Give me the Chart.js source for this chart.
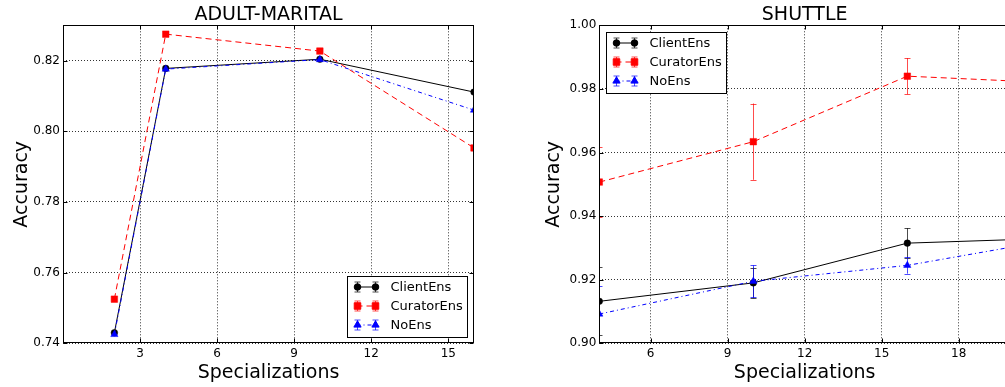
<!DOCTYPE html>
<html><head><meta charset="utf-8">
<script src="https://cdn.jsdelivr.net/npm/chart.js@4.4.1/dist/chart.umd.min.js"></script>
<style>
html,body{margin:0;padding:0;background:#fff;overflow:hidden;width:1005px;height:387px;}
#wrap{position:relative;width:1030px;height:387px;}
#c1{position:absolute;left:0;top:0;}
#c2{position:absolute;left:500px;top:0;}
</style></head><body>
<div id="wrap"><canvas id="c1" width="500" height="387"></canvas><canvas id="c2" width="530" height="387"></canvas></div>
<script>
// ---------- data ----------
const seriesNames = ['ClientEns', 'CuratorEns', 'NoEns'];

// ADULT-MARITAL
const adultX = [2, 4, 10, 16];
const adultClient  = [0.7430, 0.8178, 0.8204, 0.8111];
const adultCurator = [0.7525, 0.8275, 0.8227, 0.7953];
const adultNoEns   = [0.7425, 0.8176, 0.8203, 0.8060];
const adultErrClient  = [0, 0, 0, 0];
const adultErrCurator = [0, 0, 0, 0];
const adultErrNoEns   = [0, 0, 0, 0];
const adultXTicks = [3, 6, 9, 12, 15];
const adultYTicks = [0.74, 0.76, 0.78, 0.80, 0.82];

// SHUTTLE
const shuttleX = [4, 10, 16, 22];
const shuttleClient  = [0.9132, 0.9190, 0.9315, 0.9331];
const shuttleCurator = [0.9507, 0.9634, 0.9840, 0.9818];
const shuttleNoEns   = [0.9092, 0.9195, 0.9245, 0.9330];
const shuttleErrClient  = [0.0107, 0.0048, 0.0047, 0.0030];
const shuttleErrCurator = [0.0110, 0.0120, 0.0057, 0.0030];
const shuttleErrNoEns   = [0.0088, 0.0050, 0.0026, 0.0030];
const shuttleXTicks = [6, 9, 12, 15, 18];
const shuttleYTicks = [0.90, 0.92, 0.94, 0.96, 0.98, 1.00];

// ---------- styles ----------
const FONT = 'DejaVu Sans';
const styles = [
  {color: '#000000', dash: [], pointStyle: 'circle', radius: 3.3, order: 3},
  {color: '#ff0000', dash: [6, 4], pointStyle: 'rect', radius: 4.6, order: 2},
  {color: '#0000ff', dash: [4, 3, 1, 3], pointStyle: 'triangle', radius: 4.2, order: 1}
];

function makeDatasets(xs, ysList, errList) {
  return ysList.map((ys, k) => {
    const s = styles[k];
    return {
      label: seriesNames[k],
      data: xs.map((x, i) => ({x: x, y: ys[i]})),
      err: errList[k],
      borderColor: s.color,
      backgroundColor: s.color,
      borderWidth: 1,
      borderDash: s.dash,
      pointStyle: s.pointStyle,
      pointRadius: s.radius,
      pointBorderWidth: 0.5,
      pointBackgroundColor: s.color,
      pointBorderColor: s.color,
      tension: 0,
      clip: 0,
      order: s.order
    };
  });
}

const errorBars = {
  id: 'errorBars',
  beforeDatasetsDraw(chart) {
    const {ctx, chartArea: a, scales: {x, y}} = chart;
    ctx.save();
    ctx.beginPath(); ctx.rect(a.left, a.top, a.right - a.left, a.bottom - a.top); ctx.clip();
    chart.data.datasets.forEach(ds => {
      if (!ds.err) return;
      ctx.strokeStyle = ds.borderColor; ctx.globalAlpha = 0.7; ctx.lineWidth = 1; ctx.setLineDash([]);
      ds.data.forEach((p, i) => {
        const e = ds.err[i]; if (!e) return;
        const px = Math.round(x.getPixelForValue(p.x)) + 0.5;
        const y1 = y.getPixelForValue(p.y + e), y2 = y.getPixelForValue(p.y - e);
        ctx.beginPath();
        ctx.moveTo(px, y1); ctx.lineTo(px, y2);
        ctx.moveTo(px - 3, Math.round(y1) + 0.5); ctx.lineTo(px + 3, Math.round(y1) + 0.5);
        ctx.moveTo(px - 3, Math.round(y2) + 0.5); ctx.lineTo(px + 3, Math.round(y2) + 0.5);
        ctx.stroke();
      });
    });
    ctx.restore();
  }
};

const frame = {
  id: 'frame',
  afterDatasetsDraw(chart) {
    const {ctx, chartArea: a, scales: {x, y}} = chart;
    ctx.save();
    ctx.strokeStyle = '#000'; ctx.lineWidth = 1; ctx.setLineDash([]);
    const L = Math.round(a.left) + 0.5, R = Math.round(a.right) - 0.5, T = Math.round(a.top) + 0.5, B = Math.round(a.bottom) - 0.5;
    ctx.strokeRect(L, T, R - L, B - T);
    ctx.beginPath();
    x.ticks.forEach(t => {
      const px = Math.round(x.getPixelForValue(t.value)) + 0.5;
      ctx.moveTo(px, B); ctx.lineTo(px, B - 4);
      ctx.moveTo(px, T); ctx.lineTo(px, T + 4);
    });
    y.ticks.forEach(t => {
      const py = Math.round(y.getPixelForValue(t.value)) + 0.5;
      ctx.moveTo(L, py); ctx.lineTo(L + 4, py);
      ctx.moveTo(R, py); ctx.lineTo(R - 4, py);
    });
    ctx.stroke();
    ctx.restore();
  }
};

const legendBox = {
  id: 'legendBox',
  afterDraw(chart, args, opts) {
    const {ctx, chartArea: a} = chart;
    ctx.save();
    ctx.font = '13px "' + FONT + '"';
    const textW = Math.max(...chart.data.datasets.map(d => ctx.measureText(d.label).width));
    const w = 43 + textW + 5, h = 61;
    let left, top;
    if (opts.corner === 'lower right') { left = a.right - 6.5 - w; top = a.bottom - 6.5 - h; }
    else { left = a.left + 6.5; top = a.top + 6.5; }
    left = Math.round(left) + 0.5; top = Math.round(top) + 0.5;
    ctx.fillStyle = '#fff'; ctx.fillRect(left, top, w, h);
    ctx.strokeStyle = '#000'; ctx.lineWidth = 1; ctx.setLineDash([]);
    ctx.strokeRect(left, top, Math.round(w), h);
    chart.data.datasets.forEach((ds, i) => {
      const s = styles[i];
      const cy = top + 10.5 + i * 19;
      const x1 = left + 9, x2 = left + 27;
      ctx.strokeStyle = s.color; ctx.setLineDash(s.dash); ctx.lineWidth = 1;
      ctx.beginPath(); ctx.moveTo(x1, cy); ctx.lineTo(x2, cy); ctx.stroke();
      ctx.setLineDash([]);
      ctx.globalAlpha = 0.7;
      [x1, x2].forEach(px => {
        const xx = Math.round(px) + 0.5;
        ctx.beginPath();
        ctx.moveTo(xx, cy - 5); ctx.lineTo(xx, cy + 5);
        ctx.moveTo(xx - 3, cy - 5); ctx.lineTo(xx + 3, cy - 5);
        ctx.moveTo(xx - 3, cy + 5); ctx.lineTo(xx + 3, cy + 5);
        ctx.stroke();
      });
      ctx.globalAlpha = 1;
      ctx.fillStyle = s.color; ctx.strokeStyle = s.color;
      [x1, x2].forEach(px => {
        Chart.helpers.drawPoint(ctx, {pointStyle: s.pointStyle, radius: s.radius, borderWidth: 0.5}, Math.round(px) + 0.5, cy);
      });
      ctx.fillStyle = '#000'; ctx.textBaseline = 'middle'; ctx.textAlign = 'left';
      ctx.fillText(ds.label, left + 43, cy + 0.5);
    });
    ctx.restore();
  }
};

function makeChart(id, cfg) {
  return new Chart(document.getElementById(id), {
    type: 'line',
    data: {datasets: makeDatasets(cfg.xs, cfg.ys, cfg.errs)},
    options: {
      responsive: false, animation: false, devicePixelRatio: 1, events: [],
      layout: {padding: {top: 0, left: 0, right: cfg.padRight, bottom: 0}},
      plugins: {
        legend: {display: false}, tooltip: {enabled: false},
        title: {display: true, text: cfg.title, color: '#000', fullSize: false,
                font: {family: FONT, size: 19, weight: 'normal', lineHeight: 1},
                padding: {top: 5.6, bottom: 0.7}},
        legendBox: {corner: cfg.legendCorner}
      },
      scales: {
        x: {
          type: 'linear', min: cfg.xMin, max: cfg.xMax,
          afterBuildTicks: s => { s.ticks = cfg.xTicks.map(v => ({value: v})); },
          afterFit: s => { s.height = 43.7; },
          ticks: {autoSkip: false, maxRotation: 0, padding: 3, color: '#000',
                  font: {family: FONT, size: 12}, callback: v => String(v)},
          grid: {color: 'rgba(0,0,0,0.8)', lineWidth: 1, drawTicks: false, borderDash: [1, 2]},
          border: {display: false, dash: [1, 2]},
          title: {display: true, text: 'Specializations', color: '#000',
                  font: {family: FONT, size: 19, lineHeight: 1}, padding: {top: 0, bottom: 4.8}}
        },
        y: {
          type: 'linear', min: cfg.yMin, max: cfg.yMax,
          afterBuildTicks: s => { s.ticks = cfg.yTicks.map(v => ({value: v})); },
          afterFit: s => { s.width = cfg.yAxisWidth; },
          ticks: {padding: 3, color: '#000', font: {family: FONT, size: 12},
                  callback: v => Number(v).toFixed(2)},
          grid: {color: 'rgba(0,0,0,0.8)', lineWidth: 1, drawTicks: false, borderDash: [1, 2]},
          border: {display: false, dash: [1, 2]},
          title: {display: true, text: 'Accuracy', color: '#000',
                  font: {family: FONT, size: 19, lineHeight: 1}, padding: {top: cfg.yTitlePad, bottom: 0}}
        }
      }
    },
    plugins: [errorBars, frame, legendBox]
  });
}

makeChart('c1', {
  title: 'ADULT-MARITAL', xs: adultX,
  ys: [adultClient, adultCurator, adultNoEns],
  errs: [adultErrClient, adultErrCurator, adultErrNoEns],
  xMin: 0, xMax: 16, yMin: 0.74, yMax: 0.83,
  xTicks: adultXTicks, yTicks: adultYTicks,
  yAxisWidth: 63, padRight: 26, yTitlePad: 12.6, legendCorner: 'lower right'
});
makeChart('c2', {
  title: 'SHUTTLE', xs: shuttleX,
  ys: [shuttleClient, shuttleCurator, shuttleNoEns],
  errs: [shuttleErrClient, shuttleErrCurator, shuttleErrNoEns],
  xMin: 4, xMax: 20, yMin: 0.90, yMax: 1.00,
  xTicks: shuttleXTicks, yTicks: shuttleYTicks,
  yAxisWidth: 99.3, padRight: 20, yTitlePad: 44.6, legendCorner: 'upper left'
});
</script>
</body></html>
